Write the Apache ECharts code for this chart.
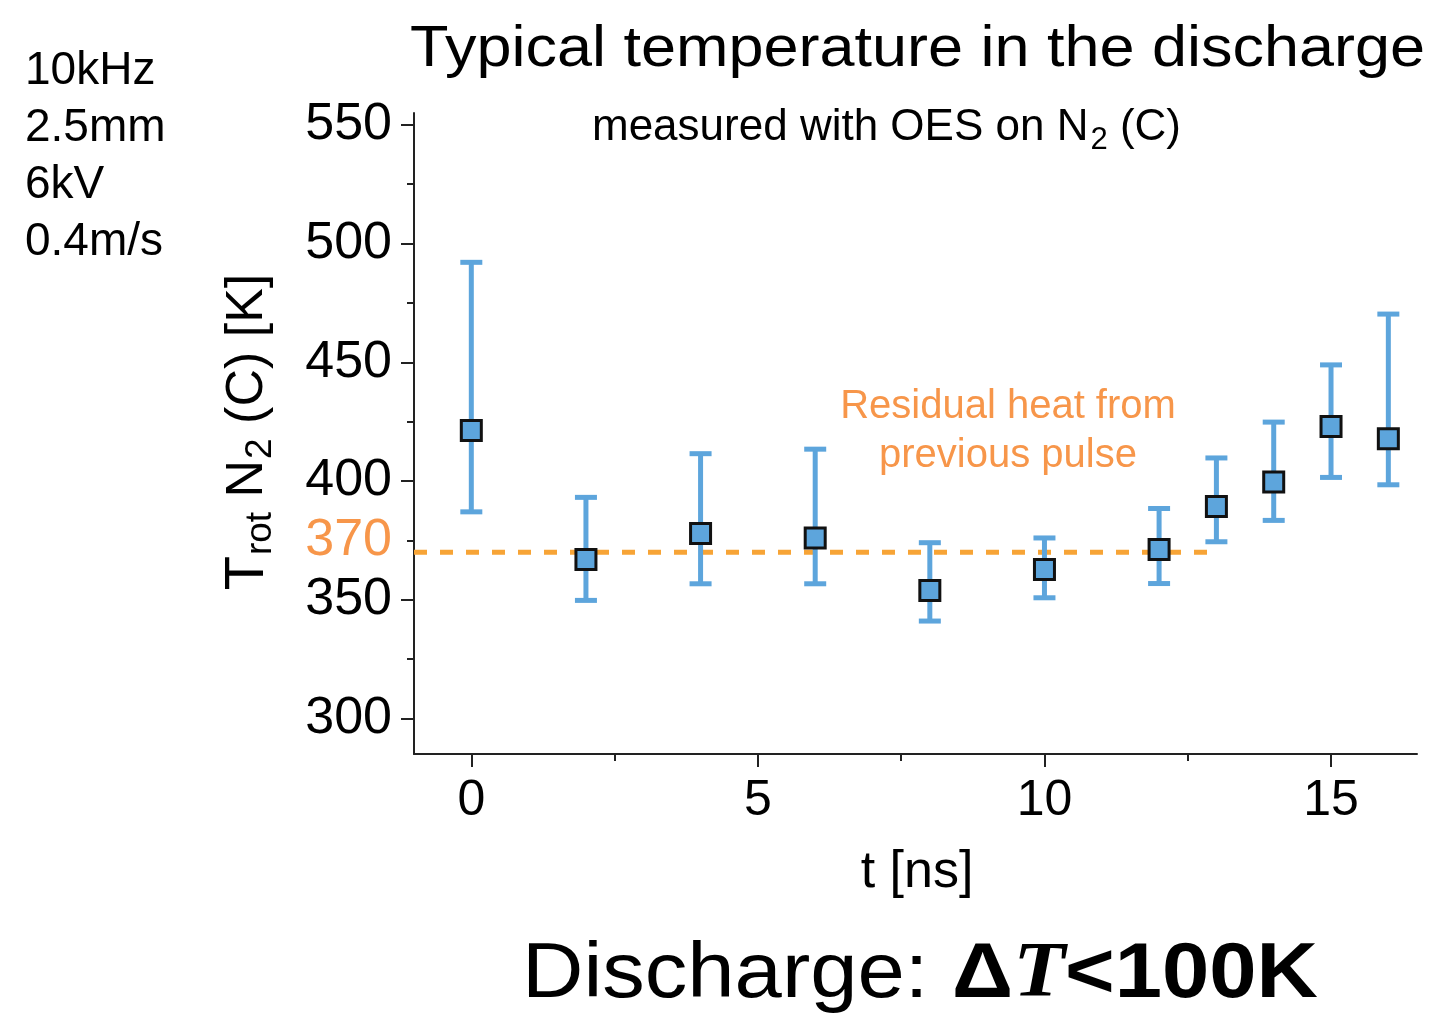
<!DOCTYPE html>
<html>
<head>
<meta charset="utf-8">
<script src="https://cdn.jsdelivr.net/npm/echarts@6/dist/echarts.min.js"></script>
<style>
html,body{margin:0;padding:0;background:#fff;}
#chart{width:1434px;height:1025px;}
</style>
</head>
<body>
<div id="chart"></div>
<script>
// ---- data ----
const timeValues = [0, 2, 4, 6, 8, 10, 12, 13, 14, 15, 16];
const tempValues = [421.3, 366.9, 377.9, 376.0, 353.9, 362.7, 371.1, 389.3, 399.6, 422.9, 417.8];
const errLow     = [387.0, 349.7, 356.7, 356.7, 341.0, 350.8, 356.8, 374.4, 383.4, 401.5, 398.4];
const errHigh    = [492.1, 393.1, 411.5, 413.4, 374.0, 376.0, 388.4, 409.7, 424.8, 448.9, 470.3];
const residualLevel = 370;
const residualStart = -1;
const residualEnd = 13;
const yMajorTicks = [300, 350, 400, 450, 500, 550];
const yMinorTicks = [325, 375, 425, 475, 525];
const xMajorTicks = [0, 5, 10, 15];
const xMinorTicks = [2.5, 7.5, 12.5];
const conditionLines = ['10kHz', '2.5mm', '6kV', '0.4m/s'];

const FONT = "'Liberation Sans', Arial, Helvetica, sans-serif";
const BLUE = '#5DA5DC';
const ORANGE_LINE = '#F7A436';
const ORANGE_TEXT = '#F7964A';

const chart = echarts.init(document.getElementById('chart'), null, {renderer: 'canvas'});

const mctx = document.createElement('canvas').getContext('2d');
function fitScale(text, size, targetW, weight) {
  mctx.font = (weight || 'normal') + ' ' + size + 'px ' + FONT;
  return targetW / mctx.measureText(text).width;
}

const scatterData = timeValues.map((t, i) => [t, tempValues[i]]);
const errData = timeValues.map((t, i) => [t, errLow[i], errHigh[i]]);

const axisLineStyle = {color: '#222', width: 2};

const option = {
  animation: false,
  backgroundColor: '#fff',
  grid: {left: 414, right: 17, top: 113, bottom: 271, containLabel: false},
  xAxis: [
    {
      type: 'value', min: -1, max: 16.5, position: 'bottom',
      axisLine: {show: true, onZero: false, lineStyle: axisLineStyle},
      axisTick: {show: true, inside: false, length: 13, lineStyle: axisLineStyle, customValues: xMajorTicks},
      axisLabel: {show: true, customValues: xMajorTicks, fontSize: 50, fontFamily: FONT, color: '#000', margin: 22},
      splitLine: {show: false}
    },
    {
      type: 'value', min: -1, max: 16.5, position: 'bottom',
      axisLine: {show: false, onZero: false},
      axisTick: {show: true, inside: false, length: 7, lineStyle: axisLineStyle, customValues: xMinorTicks},
      axisLabel: {show: false},
      splitLine: {show: false}
    }
  ],
  yAxis: [
    {
      type: 'value', min: 285, max: 555, position: 'left',
      axisLine: {show: true, onZero: false, lineStyle: axisLineStyle},
      axisTick: {show: true, inside: false, length: 13, lineStyle: axisLineStyle, customValues: yMajorTicks},
      axisLabel: {show: true, customValues: yMajorTicks, fontSize: 52, fontFamily: FONT, color: '#000', margin: 22},
      splitLine: {show: false}
    },
    {
      type: 'value', min: 285, max: 555, position: 'left',
      axisLine: {show: false, onZero: false},
      axisTick: {show: true, inside: false, length: 7, lineStyle: axisLineStyle, customValues: yMinorTicks},
      axisLabel: {show: false},
      splitLine: {show: false}
    }
  ],
  series: [
    {
      type: 'line',
      data: [[residualStart, residualLevel], [residualEnd, residualLevel]],
      symbol: 'none',
      lineStyle: {color: ORANGE_LINE, width: 5, type: [13, 13]},
      z: 2,
      silent: true
    },
    {
      type: 'custom',
      data: errData,
      z: 3,
      renderItem: function (params, api) {
        const x = api.value(0);
        const lo = api.coord([x, api.value(1)]);
        const hi = api.coord([x, api.value(2)]);
        const cap = 11;
        const st = {stroke: BLUE, lineWidth: 5};
        return {
          type: 'group',
          children: [
            {type: 'line', shape: {x1: lo[0], y1: lo[1], x2: hi[0], y2: hi[1]}, style: st},
            {type: 'line', shape: {x1: hi[0] - cap, y1: hi[1], x2: hi[0] + cap, y2: hi[1]}, style: st},
            {type: 'line', shape: {x1: lo[0] - cap, y1: lo[1], x2: lo[0] + cap, y2: lo[1]}, style: st}
          ]
        };
      }
    },
    {
      type: 'scatter',
      data: scatterData,
      symbol: 'rect',
      symbolSize: 20,
      z: 4,
      itemStyle: {color: BLUE, borderColor: '#111', borderWidth: 3, opacity: 1}
    }
  ]
};

chart.setOption(option);

// ---- texts ----
const g = [];
// Title
const titleText = 'Typical temperature in the discharge';
g.push({type: 'text', x: 410, y: 50, scaleX: fitScale(titleText, 58, 1015), z: 10,
  style: {text: titleText, font: '58px ' + FONT, fill: '#000', textAlign: 'left', textVerticalAlign: 'middle'}});
// Subtitle with subscript
g.push({type: 'text', x: 592, y: 128, z: 10,
  style: {
    text: '{a|measured with OES on N}{s|2}{a| (C)}',
    textAlign: 'left', textVerticalAlign: 'middle',
    rich: {
      a: {fontSize: 44, fontFamily: FONT, color: '#000'},
      s: {fontSize: 31, fontFamily: FONT, color: '#000', padding: [24, 0, 0, 2]}
    }
  }});
// Conditions block
const condY = [71, 128, 185, 242];
conditionLines.forEach((txt, i) => {
  g.push({type: 'text', x: 25, y: condY[i], z: 10,
    style: {text: txt, font: '46px ' + FONT, fill: '#000', textAlign: 'left', textVerticalAlign: 'middle'}});
});
// Residual heat annotation
g.push({type: 'text', x: 1008, y: 407, z: 10,
  style: {text: 'Residual heat from', font: '40px ' + FONT, fill: ORANGE_TEXT, textAlign: 'center', textVerticalAlign: 'middle'}});
g.push({type: 'text', x: 1008, y: 456, z: 10,
  style: {text: 'previous pulse', font: '40px ' + FONT, fill: ORANGE_TEXT, textAlign: 'center', textVerticalAlign: 'middle'}});
// x axis name
g.push({type: 'text', x: 917, y: 873, z: 10,
  style: {text: 't [ns]', font: '52px ' + FONT, fill: '#000', textAlign: 'center', textVerticalAlign: 'middle'}});
// y axis name (rotated)
g.push({type: 'text', x: 248, y: 432, rotation: Math.PI / 2, z: 10,
  style: {
    text: '{T|T}{r|rot}{a| N}{s|2}{a| (C) [K]}',
    textAlign: 'center', textVerticalAlign: 'middle',
    rich: {
      T: {fontSize: 56, fontFamily: FONT, color: '#000'},
      r: {fontSize: 37, fontFamily: FONT, color: '#000', padding: [25, 0, 0, 1]},
      a: {fontSize: 52, fontFamily: FONT, color: '#000'},
      s: {fontSize: 37, fontFamily: FONT, color: '#000', padding: [25, 0, 0, 1]}
    }
  }});
// Bottom statement
g.push({type: 'text', x: 920, y: 975, scaleX: 1.09, z: 10,
  style: {
    text: '{n|Discharge: }{b|Δ}{i|T}{b|<100K}',
    textAlign: 'center', textVerticalAlign: 'middle',
    rich: {
      n: {fontSize: 78, fontFamily: FONT, color: '#000'},
      b: {fontSize: 78, fontFamily: FONT, fontWeight: 'bold', color: '#000'},
      i: {fontSize: 78, fontFamily: "'Liberation Serif', 'Times New Roman', serif", fontWeight: 'bold', fontStyle: 'italic', color: '#000'}
    }
  }});
// "370" label next to the residual level line
const p370 = chart.convertToPixel({xAxisIndex: 0, yAxisIndex: 0}, [residualStart, residualLevel]);
g.push({type: 'text', x: p370[0] - 22, y: p370[1] - 12, z: 10,
  style: {text: String(residualLevel), font: '52px ' + FONT, fill: ORANGE_TEXT, textAlign: 'right', textVerticalAlign: 'middle'}});

chart.setOption({graphic: g});
</script>
</body>
</html>
